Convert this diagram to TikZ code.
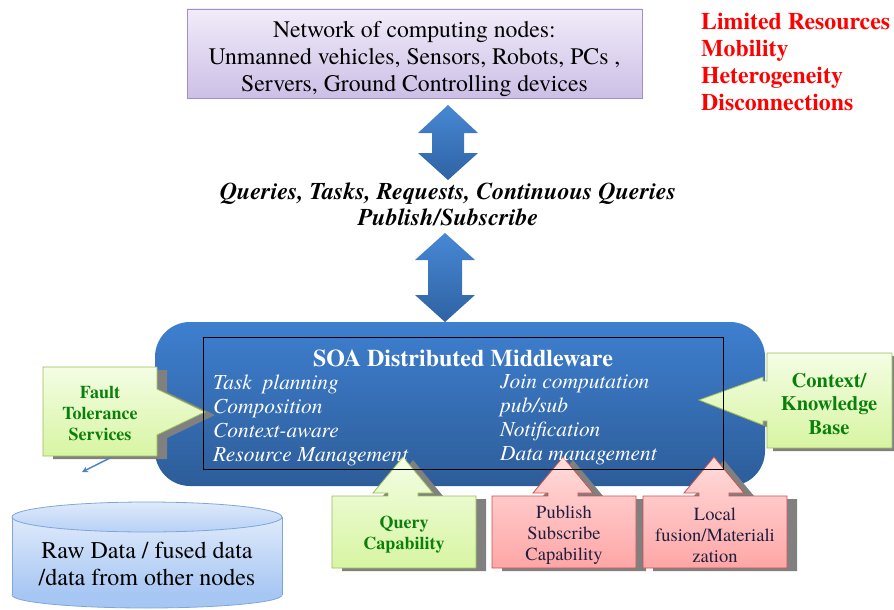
\documentclass[tikz,border=0pt]{standalone}
\usepackage{fontspec}
\setmainfont{texgyretermes}[Extension=.otf, UprightFont=*-regular, BoldFont=*-bold, ItalicFont=*-italic, BoldItalicFont=*-bolditalic]
\usetikzlibrary{arrows.meta}
\definecolor{purptop}{HTML}{F1ECF9}
\definecolor{purpbot}{HTML}{CCBFE6}
\definecolor{purpborder}{HTML}{A28FC7}
\definecolor{mwtop}{HTML}{3E7FCF}
\definecolor{mwbot}{HTML}{2D5D99}
\definecolor{arrtop}{HTML}{4788D4}
\definecolor{arrbot}{HTML}{2F62A3}
\definecolor{gtop}{HTML}{F4FDE4}
\definecolor{gbot}{HTML}{D7F5A2}
\definecolor{gborder}{HTML}{9BBB59}
\definecolor{gtext}{HTML}{0A800A}
\definecolor{ptop}{HTML}{FFDCDC}
\definecolor{pbot}{HTML}{FFA6A6}
\definecolor{pborder}{HTML}{C9504D}
\definecolor{ptext}{HTML}{1F2040}
\definecolor{cyltop}{HTML}{DFEAFB}
\definecolor{cylbot}{HTML}{A6C6F3}
\definecolor{cylborder}{HTML}{7FA6DB}
\definecolor{shadowc}{HTML}{808080}
\definecolor{smallarr}{HTML}{4F81BD}
\begin{document}
\begin{tikzpicture}[x=1pt,y=-1pt,
  shadowfill/.style={fill=shadowc},
  greencall/.style={top color=gtop,bottom color=gbot,draw=gborder,line width=0.8pt},
  pinkcall/.style={top color=ptop,bottom color=pbot,draw=pborder,line width=0.8pt},
  bigarrow/.style={top color=arrtop,bottom color=arrbot},
  gtxt/.style={text=gtext,font=\fontsize{18}{21}\selectfont\bfseries,align=center,inner sep=0},
  ptxt/.style={text=ptext,font=\fontsize{18.5}{21}\selectfont,align=center,inner sep=0},
  wtxt/.style={text=white,font=\fontsize{21.4}{24}\selectfont\itshape,align=left,anchor=west,inner sep=0}]
\useasboundingbox (0,0) rectangle (894,610);

% network box
\node[draw=purpborder, top color=purptop, bottom color=purpbot, minimum width=455pt, minimum height=89pt, inner sep=0] (net) at (414.5,53.5) {};
\node[font=\fontsize{23.7}{27}\selectfont, align=center, inner sep=0] (nettext) at (414.5,58.5) {Network of computing nodes:\\Unmanned vehicles, Sensors, Robots, PCs ,\\Servers, Ground Controlling devices};

% challenges
\node[font=\fontsize{23.8}{26.7}\selectfont\bfseries, text=red, align=left, anchor=west, inner sep=0] (chal) at (701,62) {Limited Resources\\Mobility\\Heterogeneity\\Disconnections};

% double arrows
\path[bigarrow] (448,105) -- (478,133) -- (464,133) -- (464,153) -- (478,153) -- (448,180) -- (418,153) -- (432,153) -- (432,133) -- (418,133) -- cycle;
\path[bigarrow] (445,233) -- (475,260) -- (462,260) -- (462,295) -- (475,295) -- (445,322) -- (415,295) -- (428,295) -- (428,260) -- (415,260) -- cycle;

% queries text
\node[font=\fontsize{24}{26}\selectfont\bfseries\itshape, align=center, inner sep=0] (req) at (448,204) {Queries, Tasks, Requests, Continuous Queries\\Publish/Subscribe};

% middleware
\node[rounded corners=35pt, minimum width=610pt, minimum height=164pt, top color=mwtop, bottom color=mwbot, inner sep=0] (mw) at (460,404) {};

% fault tolerance callout
\fill[shadowfill, shift={(10,3)}] (43,367) -- (157,367) -- (157,389) -- (205,412) -- (157,435) -- (157,456) -- (43,456) -- cycle;
\path[greencall] (43,367) -- (157,367) -- (157,389) -- (205,412) -- (157,435) -- (157,456) -- (43,456) -- cycle;
\node[gtxt] (fts) at (100,414) {Fault\\Tolerance\\Services};

% context callout
\fill[shadowfill, shift={(6,3)}] (767,353) -- (892,353) -- (892,448) -- (767,448) -- (767,421) -- (763,421) -- (763,425) -- (699,400) -- (763,377) -- (763,381) -- (767,381) -- cycle;
\path[greencall] (767,353) -- (892,353) -- (892,448) -- (767,448) -- (767,421) -- (763,421) -- (763,425) -- (699,400) -- (763,377) -- (763,381) -- (767,381) -- cycle;
\node[gtxt, font=\fontsize{20.5}{23.5}\selectfont\bfseries] (ckb) at (829,404) {Context/\\Knowledge\\Base};

% bottom callouts
\foreach \dx/\sty in {0/greencall,160/pinkcall,311/pinkcall}{
  \fill[shadowfill, shift={(\dx+10,3)}] (332,496) -- (388,496) -- (388,493) -- (373,493) -- (403,457) -- (433,493) -- (418,493) -- (418,496) -- (476,496) -- (476,568) -- (332,568) -- cycle;
  \path[\sty, shift={(\dx,0)}] (332,496) -- (388,496) -- (388,493) -- (373,493) -- (403,457) -- (433,493) -- (418,493) -- (418,496) -- (476,496) -- (476,568) -- (332,568) -- cycle;
}
\node[gtxt] (qc) at (404,535) {Query\\Capability};
\node[ptxt] (psc) at (564,535) {Publish\\Subscribe\\Capability};
\node[ptxt] (lfm) at (715,535) {Local\\fusion/Materiali\\zation};

% inner rectangle and texts
\node[draw=black, line width=0.7pt, minimum width=520pt, minimum height=132pt, inner sep=0] (inner) at (463,403) {};
\node[text=white, font=\fontsize{24}{26}\selectfont\bfseries, inner sep=0] (mwtitle) at (463,358) {SOA Distributed Middleware};
\node[wtxt] (colL) at (213,420) {Task~ planning\\Composition\\Context-aware\\Resource Management};
\node[wtxt] (colR) at (500,420) {Join computation\\pub/sub\\Notification\\Data management};

% small arrow
\coordinate (ftsfoot) at (110,458);
\coordinate (ftsend) at (82,472);
\draw[smallarr, line width=1.5pt, -{Stealth[length=6pt,width=6pt]}] (ftsfoot) -- (ftsend);

% cylinder
\path[fill=cylbot, draw=cylborder, line width=0.8pt] (147,595) ellipse [x radius=135pt, y radius=13pt];
\path[top color=cyltop, bottom color=cylbot] (12,517) rectangle (282,595);
\draw[cylborder, line width=0.8pt] (12,517) -- (12,595) (282,517) -- (282,595);
\path[top color=cyltop, bottom color=cylbot!70!cyltop, draw=cylborder, line width=0.8pt] (147,517) ellipse [x radius=135pt, y radius=15pt];
\node[font=\fontsize{24}{27}\selectfont, align=center, inner sep=0] (db) at (147,564) {Raw Data / fused data\\/data from other nodes};
\end{tikzpicture}
\end{document}
